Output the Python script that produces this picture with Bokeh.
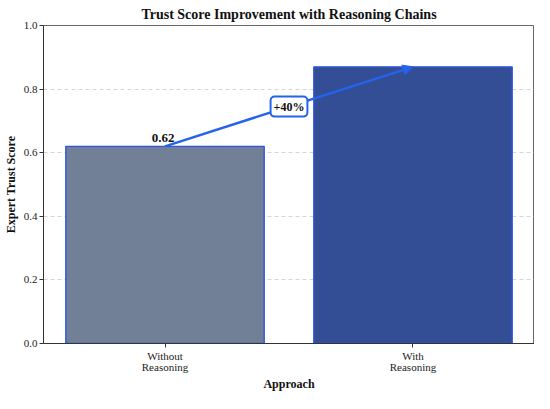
from bokeh.plotting import figure
from bokeh.models import Range1d, FixedTicker, Label, Arrow, NormalHead, ColumnDataSource
from bokeh.embed import file_html
from bokeh.resources import INLINE

categories = ["Without\nReasoning", "With\nReasoning"]
positions = [0, 1]
scores = [0.62, 0.87]
fill_colors = ["#718096", "#344e96"]
improvement_label = "+40%"
y_ticks = [0.0, 0.2, 0.4, 0.6, 0.8, 1.0]

FONT = "Liberation Serif"

src = ColumnDataSource(dict(x=positions, top=scores, color=fill_colors))

p = figure(width=534, height=393, output_backend="svg", toolbar_location=None,
           x_range=Range1d(-0.49, 1.49), y_range=Range1d(0, 1.0),
           title="Trust Score Improvement with Reasoning Chains",
           min_border_left=2, min_border_right=0, min_border_top=2, min_border_bottom=0)

p.title.text_font = FONT
p.title.text_font_size = "14px"
p.title.text_font_style = "bold"
p.title.align = "center"
p.title.text_color = "#111111"
p.title.standoff = 8

p.vbar(x="x", top="top", width=0.8, fill_color="color", line_color="#2f55e0",
       line_width=1.4, source=src)

# axes
p.xaxis.ticker = FixedTicker(ticks=positions)
p.xaxis.major_label_overrides = {pos: lab for pos, lab in zip(positions, categories)}
p.xaxis.minor_tick_line_color = None
p.yaxis.ticker = FixedTicker(ticks=y_ticks)
p.yaxis.minor_tick_line_color = None
p.yaxis.major_label_overrides = {t: f"{t:.1f}" for t in y_ticks}

for ax in (p.xaxis[0], p.yaxis[0]):
    ax.major_label_text_font = FONT
    ax.major_label_text_font_size = "11px"
    ax.major_label_text_color = "#222222"
    ax.axis_label_text_font = FONT
    ax.axis_label_text_font_size = "12px"
    ax.axis_label_text_font_style = "bold"
    ax.axis_label_text_color = "#111111"
    ax.axis_line_color = "#333333"
    ax.major_tick_line_color = "#333333"
    ax.major_tick_in = 0
    ax.major_tick_out = 4
    ax.major_label_standoff = 2
    ax.axis_label_standoff = 3

p.xaxis.major_label_text_line_height = 0.95
p.xaxis.axis_label_standoff = 1
p.xaxis.axis_label = "Approach"
p.yaxis.axis_label = "Expert Trust Score"

p.xgrid.grid_line_color = None
p.ygrid.grid_line_color = "#cccccc"
p.ygrid.grid_line_dash = "4 3"
p.ygrid.grid_line_width = 0.8

p.outline_line_color = "#666666"
p.outline_line_width = 1

# value label
p.add_layout(Label(x=positions[0], y=scores[0], text=f"{scores[0]:.2f}",
                   text_font=FONT, text_font_size="13px", text_font_style="bold",
                   text_align="center", text_baseline="bottom", y_offset=4, x_offset=-2,
                   text_color="#111111"))

# arrow
arrow_color = "#2563eb"
p.add_layout(Arrow(x_start=positions[0], y_start=scores[0], x_end=positions[1], y_end=scores[1],
                   line_color=arrow_color, line_width=2.5,
                   end=NormalHead(size=10, fill_color=arrow_color, line_color=arrow_color)))

mx = (positions[0] + positions[1]) / 2
my = (scores[0] + scores[1]) / 2
p.add_layout(Label(x=mx, y=my, text=improvement_label, text_font=FONT, text_font_size="12px",
                   text_font_style="bold", text_align="center", text_baseline="middle",
                   text_color="#111111", background_fill_color="white",
                   border_line_color=arrow_color, border_line_width=2,
                   padding=3, border_radius=4))

open("out.html", "w").write(file_html(p, INLINE))
